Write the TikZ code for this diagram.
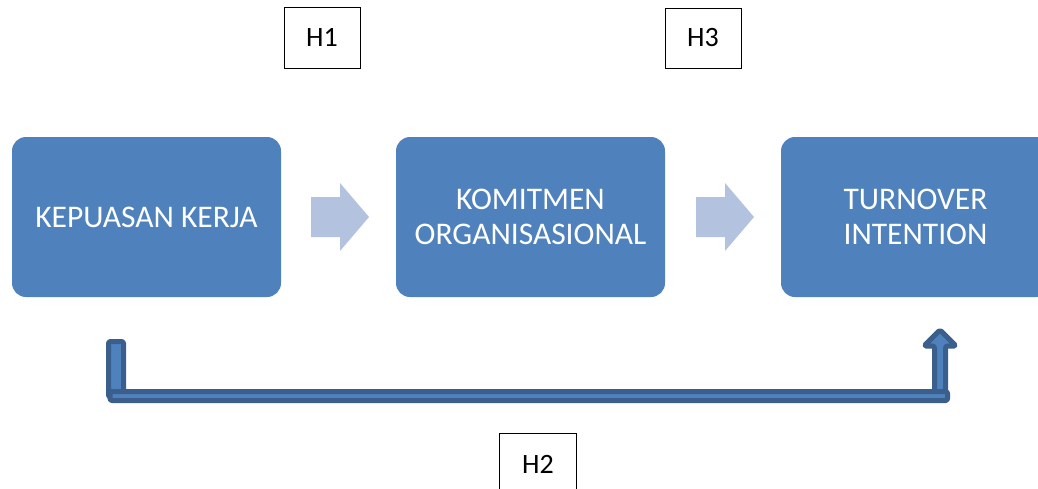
\documentclass[tikz,border=0pt]{standalone}
\usepackage{fontspec}
\setmainfont{Carlito}
\definecolor{boxblue}{HTML}{4F81BD}
\definecolor{chev}{HTML}{B3C3DF}
\definecolor{edgeblue}{HTML}{3A5F8C}
\begin{document}
\begin{tikzpicture}[x=1pt,y=-1pt,
  mainbox/.style={fill=boxblue, rounded corners=14pt, draw=none},
  boxtext/.style={text=white, font=\fontsize{31.5}{34.5}\selectfont, align=center},
  hbox/.style={draw=black, line width=0.9pt, fill=white, inner sep=0pt},
  htext/.style={font=\fontsize{28}{30}\selectfont},
  chevron/.style={fill=chev, draw=none},
  bar/.style={fill=boxblue, draw=edgeblue, line width=5pt, rounded corners=1.5pt, line join=round}]
\useasboundingbox (0,0) rectangle (1038,488);
\clip (0,0) rectangle (1038,488);
% main boxes
\fill[mainbox] (12,137) rectangle (281,297);
\node[boxtext] (kk) at (146.5,217) {KEPUASAN KERJA};
\fill[mainbox] (396,137) rectangle (665,297);
\node[boxtext] (ko) at (530.5,217) {KOMITMEN\\ORGANISASIONAL};
\fill[mainbox] (781,137) rectangle (1050,297);
\node[boxtext] (ti) at (915.5,217) {TURNOVER\\INTENTION};
% chevrons
\fill[chevron] (311,197) -- (340,197) -- (340,183) -- (369,217) -- (340,251) -- (340,237) -- (311,237) -- cycle;
\fill[chevron] (696,197) -- (725,197) -- (725,183) -- (754,217) -- (725,251) -- (725,237) -- (696,237) -- cycle;
% H boxes
\draw[hbox] (284.5,7.5) rectangle (360,68);
\node[htext] (h1) at (322,37) {H1};
\draw[hbox] (665.5,8.5) rectangle (741,68);
\node[htext] (h3) at (703,38) {H3};
\draw[hbox] (499.5,433.5) rectangle (576,495);
\node[htext] (h2) at (538,464) {H2};
% bottom bent arrow
\draw[bar] (108.5,341.5) rectangle (123.5,397);
\draw[bar] (934.5,399) -- (934.5,346) -- (924,346) -- (940,330) -- (956,346) -- (945.5,346) -- (945.5,399) -- cycle;
\draw[bar] (110,391.5) rectangle (947.5,400.5);
\end{tikzpicture}
\end{document}
